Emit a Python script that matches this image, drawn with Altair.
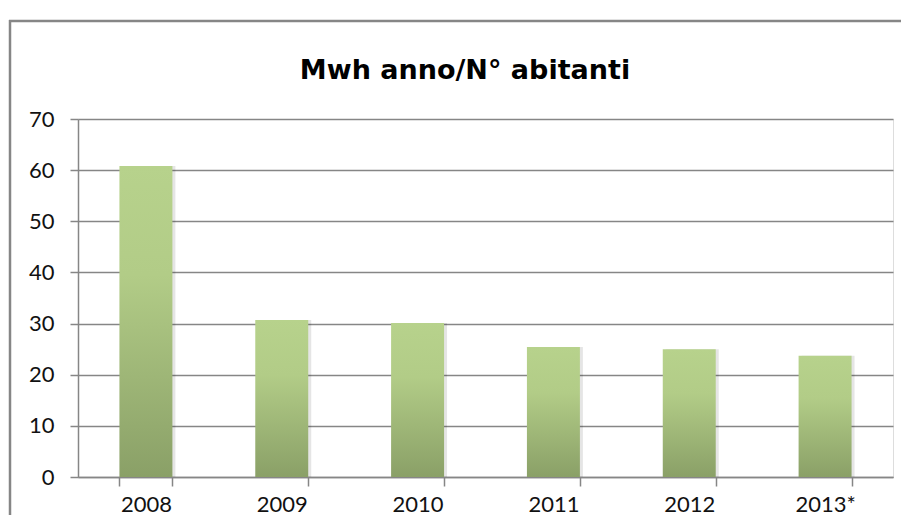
import altair as alt
import pandas as pd

years = ["2008", "2009", "2010", "2011", "2012", "2013*"]
values = [60.8, 30.7, 30.1, 25.4, 25.0, 23.7]
y_ticks = [0, 10, 20, 30, 40, 50, 60, 70]
title_text = ["Mwh anno/N° abitanti"]

df = pd.DataFrame({"year": years, "value": values})

FONT = "Lato"
GRAY = "#868686"

x_enc = alt.X(
    "year:N",
    sort=years,
    scale=alt.Scale(paddingInner=0.61, paddingOuter=0.305),
    axis=alt.Axis(
        title=None,
        labelAngle=0,
        labelFont=FONT,
        labelFontSize=22,
        labelColor="#111111",
        labelPadding=8,
        tickBand="extent",
        tickSize=9,
        tickColor=GRAY,
        tickWidth=1.5,
        domainColor=GRAY,
        domainWidth=1.5,
        grid=False,
    ),
)
y_enc = alt.Y(
    "value:Q",
    scale=alt.Scale(domain=[0, 70], nice=False),
    axis=alt.Axis(
        title=None,
        values=y_ticks,
        labelFont=FONT,
        labelFontSize=22,
        labelColor="#111111",
        labelPadding=16,
        tickSize=8,
        tickColor=GRAY,
        tickWidth=1.5,
        domainColor=GRAY,
        domainWidth=1.5,
        gridColor=GRAY,
        gridWidth=1.5,
    ),
)

shadow = alt.Chart(df).mark_bar(xOffset=3, color="#000000", opacity=0.10).encode(
    x=x_enc, y=y_enc
)

bars = alt.Chart(df).mark_bar(
    color=alt.Gradient(
        gradient="linear",
        stops=[
            alt.GradientStop(color="#b7d28c", offset=0),
            alt.GradientStop(color="#b2cc87", offset=0.35),
            alt.GradientStop(color="#8aa067", offset=1),
        ],
        x1=0, x2=0, y1=0, y2=1,
    )
).encode(x=x_enc, y=y_enc)

one = pd.DataFrame({"a": [0]})
border_left = alt.Chart(one).mark_rule(color=GRAY, strokeWidth=2.5).encode(
    x=alt.value(-68), y=alt.value(-99), y2=alt.value(420)
)
border_top = alt.Chart(one).mark_rule(color=GRAY, strokeWidth=2.5).encode(
    x=alt.value(-69), x2=alt.value(823), y=alt.value(-98)
)

title = alt.Chart(pd.DataFrame({"t": title_text})).mark_text(
    font="DejaVu Sans", fontSize=27, fontWeight="bold", color="#000000",
    align="center", baseline="alphabetic",
).encode(text="t:N", x=alt.value(387), y=alt.value(-40))

chart = alt.layer(border_left, border_top, shadow, bars, title).properties(
    width=815,
    height=358,
    padding={"left": 70, "top": 111, "right": 8, "bottom": 38},
    autosize=alt.AutoSizeParams(type="none"),
).configure_view(stroke=None).configure(background="white")

chart.save("out.html", embed_options={"renderer": "svg", "actions": False})
